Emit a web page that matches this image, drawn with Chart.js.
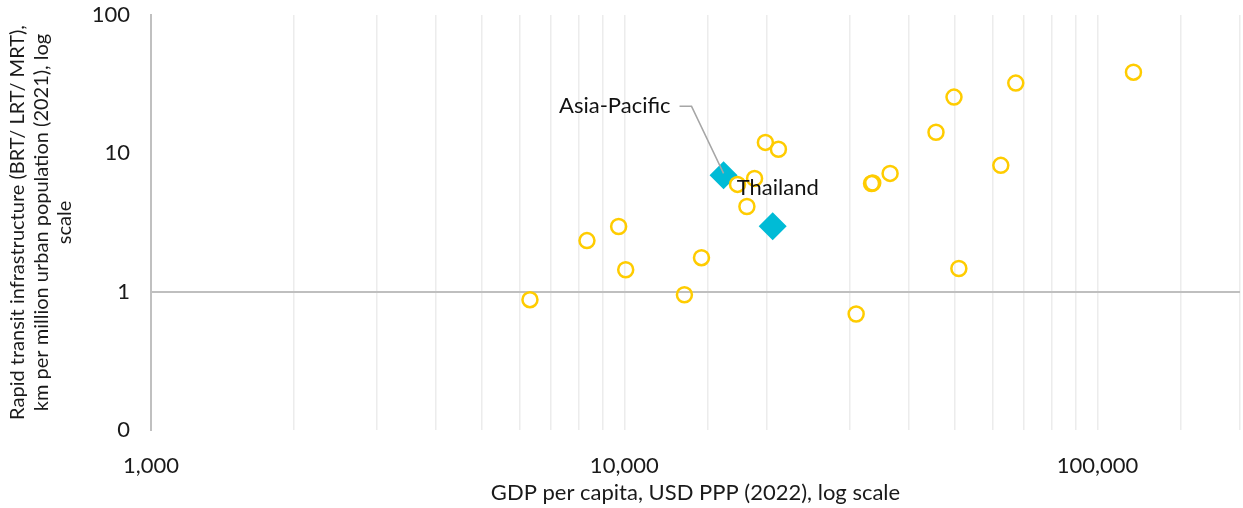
<!DOCTYPE html>
<html lang="en">
<head>
<meta charset="UTF-8">
<title>Rapid transit infrastructure vs GDP per capita</title>
<script src="https://cdn.jsdelivr.net/npm/chart.js"></script>
<style>
  html, body { margin: 0; padding: 0; background: #fff; }
</style>
</head>
<body>
<canvas id="scatter" width="1243" height="508"></canvas>
<script>
// countries (yellow circles): GDP per capita and km per million urban pop
const countryGdp = [6320, 8340, 9730, 10070, 13400, 14560, 17350, 18160, 18850, 19870,
                    21170, 30900, 33300, 33500, 36450, 45570, 49740, 50930, 62460, 67180, 119100];
const countryKm  = [0.875, 2.34, 2.96, 1.44, 0.95, 1.76, 5.96, 4.13, 6.59, 12.0,
                    10.7, 0.69, 6.05, 6.1, 7.16, 14.2, 25.5, 1.47, 8.19, 32.2, 38.6];

// highlighted points (blue diamonds)
const highlightNames = ['Asia-Pacific', 'Thailand'];
const highlightGdp = [16210, 20590];
const highlightKm  = [6.93, 2.97];

const xTitle = 'GDP per capita, USD PPP (2022), log scale';
const yTitle = ['Rapid transit infrastructure (BRT/ LRT/ MRT),',
                'km per million urban population (2021), log',
                'scale'];

const FONT = 'Lato';

function isPow10(v) {
  const l = Math.log10(v);
  return Math.abs(l - Math.round(l)) < 1e-9;
}

// labels for the two highlighted points
const pointLabels = {
  id: 'pointLabels',
  afterDatasetsDraw(chart) {
    const ctx = chart.ctx;
    const pts = chart.getDatasetMeta(1).data;
    ctx.save();
    ctx.font = '22px ' + FONT;
    ctx.fillStyle = '#111';
    ctx.textBaseline = 'middle';

    // Asia-Pacific with leader line
    const a = pts[0];
    ctx.strokeStyle = '#a6a6a6';
    ctx.lineWidth = 1.5;
    ctx.beginPath();
    ctx.moveTo(a.x - 44, a.y - 69);
    ctx.lineTo(a.x - 32, a.y - 69);
    ctx.lineTo(a.x, a.y - 2);
    ctx.stroke();
    ctx.textAlign = 'right';
    ctx.fillText(highlightNames[0], a.x - 53, a.y - 69);

    // Thailand
    const t = pts[1];
    ctx.textAlign = 'left';
    ctx.fillText(highlightNames[1], t.x - 36, t.y - 38);
    ctx.restore();
  }
};

const ctx = document.getElementById('scatter').getContext('2d');
new Chart(ctx, {
  type: 'scatter',
  data: {
    datasets: [{
      label: 'Countries',
      data: countryGdp.map((g, i) => ({ x: g, y: countryKm[i] })),
      pointStyle: 'circle',
      pointRadius: 7.5,
      pointBorderWidth: 2.5,
      borderColor: '#FFCC00',
      backgroundColor: 'rgba(255,255,255,0)'
    }, {
      label: 'Highlights',
      data: highlightGdp.map((g, i) => ({ x: g, y: highlightKm[i] })),
      pointStyle: 'rectRot',
      pointRadius: 14,
      pointBorderWidth: 0,
      borderColor: '#00BBD6',
      backgroundColor: '#00BBD6'
    }]
  },
  options: {
    responsive: false,
    animation: false,
    layout: { autoPadding: false, padding: { top: 15, right: 3, left: 0, bottom: 0 } },
    plugins: {
      legend: { display: false },
      tooltip: { enabled: false }
    },
    scales: {
      x: {
        type: 'logarithmic',
        min: 1000,
        max: 200000,
        border: { display: false },
        grid: {
          drawTicks: false,
          color: '#ececec',
          lineWidth: 1.5
        },
        ticks: {
          autoSkip: false,
          maxRotation: 0,
          padding: 23,
          color: '#1a1a1a',
          font: { family: FONT, size: 22 },
          callback: v => isPow10(v) ? Number(v).toLocaleString('en-US') : ''
        },
        title: {
          display: true,
          text: xTitle,
          color: '#1a1a1a',
          font: { family: FONT, size: 22, lineHeight: 1.2 },
          padding: { top: 4, bottom: 2 }
        },
        afterFit: s => { s.height = 78; s.paddingLeft = 0; s.paddingRight = 0; }
      },
      y: {
        type: 'logarithmic',
        min: 0.1,
        max: 100,
        border: { display: true, color: '#c0c0c0', width: 2 },
        grid: {
          drawTicks: false,
          lineWidth: 2,
          color: c => (c.tick && Math.abs(c.tick.value - 1) < 1e-9) ? '#bfbfbf' : 'rgba(0,0,0,0)'
        },
        ticks: {
          autoSkip: false,
          padding: 21,
          color: '#1a1a1a',
          font: { family: FONT, size: 22 },
          callback: v => isPow10(v) ? (v < 1 ? '0' : String(Math.round(v))) : ''
        },
        title: {
          display: true,
          text: yTitle,
          color: '#1a1a1a',
          font: { family: FONT, size: 20, lineHeight: 1.17 },
          padding: { top: 6, bottom: 0 }
        },
        afterFit: s => { s.width = 151; s.paddingTop = 0; s.paddingBottom = 0; }
      }
    }
  },
  plugins: [pointLabels]
});
</script>
</body>
</html>
